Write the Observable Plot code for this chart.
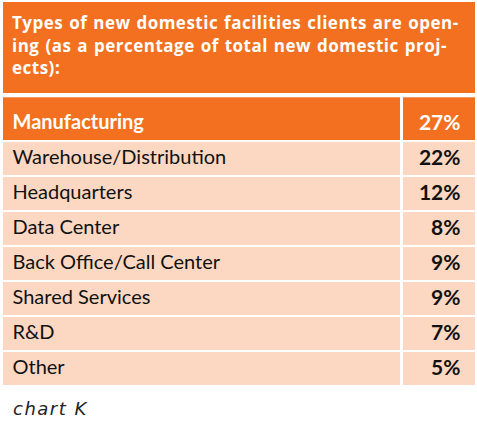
<!DOCTYPE html>
<html>
<head>
<meta charset="utf-8">
<script src="https://cdn.jsdelivr.net/npm/d3@7"></script>
<script src="https://cdn.jsdelivr.net/npm/@observablehq/plot@0.6"></script>
<style>
  body { margin: 0; background: #fff; font-family: Lato, "Open Sans", sans-serif; }
  #title {
    margin: 2px 0 0 3px; width: 463px; height: 81px;
    padding: 10px 0 0 9px; background: #f37021; color: #fff;
    font-family: "Open Sans", sans-serif; letter-spacing: 0.5px; word-spacing: 1px;
    font-weight: 700; font-size: 17px; line-height: 22.5px; white-space: pre-line;
  }
  #chart svg { display: block; }
  #caption { margin: 6px 0 0 13px; font-family: "DejaVu Sans", sans-serif; font-size: 18px; letter-spacing: 1.5px; line-height: 20px; font-style: italic; color: #222; }
</style>
</head>
<body>
<div id="title">Types of new domestic facilities clients are open-
ing (as a percentage of total new domestic proj-
ects):</div>
<div id="chart"></div>
<div id="caption">chart K</div>
<script>
const types = ["Manufacturing", "Warehouse/Distribution", "Headquarters", "Data Center",
  "Back Office/Call Center", "Shared Services", "R&D", "Other"];
const shares = [27, 22, 12, 8, 9, 9, 7, 5];

const orange = "#f37021";
const peach = "#fcd8c2";
const split = 0.8443; // part de la largeur pour la colonne des libellés

const rows = types.map((type, i) => ({type, share: shares[i]}));
const isHead = (d) => d.type === types[0];
const isBody = (d) => !isHead(d);

const plot = Plot.plot({
  width: 477,
  height: 300,
  marginLeft: 3,
  marginRight: 2,
  marginTop: 13,
  marginBottom: 7,
  x: {domain: [0, 1], axis: null},
  y: {domain: types, axis: null, paddingInner: 0.07, paddingOuter: 0},
  marks: [
    // cellules
    Plot.barX(rows, {filter: isBody, x1: 0, x2: split, y: "type", fill: peach, insetRight: 1.5}),
    Plot.barX(rows, {filter: isBody, x1: split, x2: 1, y: "type", fill: peach, insetLeft: 1.5}),
    // ligne d'en-tête (plus haute)
    Plot.barX(rows, {filter: isHead, x1: 0, x2: split, y: "type", fill: orange, insetRight: 1.5, insetTop: -9.7}),
    Plot.barX(rows, {filter: isHead, x1: split, x2: 1, y: "type", fill: orange, insetLeft: 1.5, insetTop: -9.7}),
    // textes
    Plot.text(rows, {
      filter: isBody, x: () => 0, y: "type", text: "type", textAnchor: "start", dx: 9, dy: -1,
      fontFamily: "Lato", fontSize: 20, fill: "#111"
    }),
    Plot.text(rows, {
      filter: isHead, x: () => 0, y: "type", text: "type", textAnchor: "start", dx: 9, dy: -1,
      fontFamily: "Lato", fontSize: 20, fontWeight: 700, fill: "#fff"
    }),
    Plot.text(rows, {
      x: () => 1, y: "type", text: (d) => `${d.share}%`, textAnchor: "end", dx: -15, dy: -1,
      fontFamily: "Lato", fontSize: 21, fontWeight: 700,
      fill: (d) => isHead(d) ? "#fff" : "#111"
    })
  ]
});
document.getElementById("chart").appendChild(plot);
</script>
</body>
</html>
